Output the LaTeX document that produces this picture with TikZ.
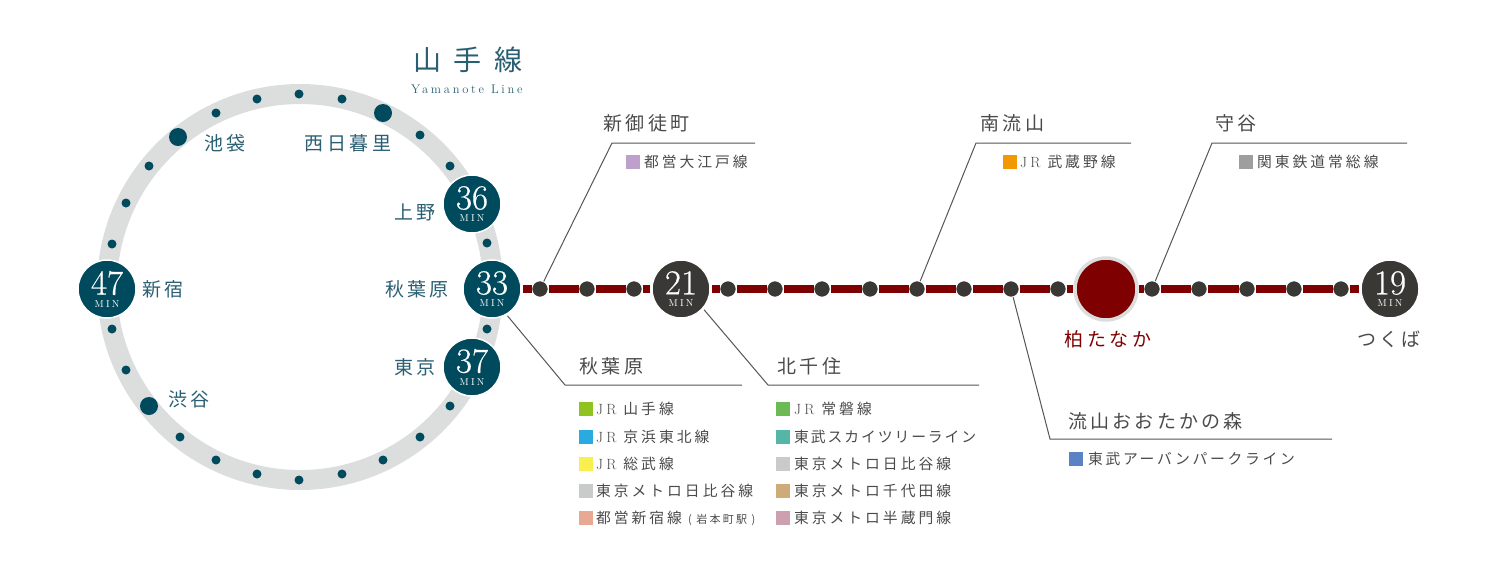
\documentclass[tikz,border=0pt]{standalone}
\usepackage{fontspec}
\usepackage{xcolor}
\newfontfamily\cjkname[LetterSpace=18]{Noto Sans CJK JP}
\newfontfamily\cjkleg[LetterSpace=20]{Noto Sans CJK JP}
\newfontfamily\cjktitle[LetterSpace=45]{Noto Sans CJK JP}
\newfontfamily\romansp[LetterSpace=22]{Latin Modern Roman}
\newfontfamily\numfont[FakeBold=0.4]{Latin Modern Roman}
\definecolor{teal}{HTML}{004A5E}
\definecolor{tealtext}{HTML}{2A5F72}
\definecolor{dark}{HTML}{3A3835}
\definecolor{wine}{HTML}{7F0000}
\definecolor{ringgray}{HTML}{DCDDDD}
\definecolor{leadgray}{HTML}{555555}
\definecolor{labgray}{HTML}{4A4A4A}
% line colours
\definecolor{oedo}{HTML}{BDA0CC}
\definecolor{musashino}{HTML}{F39800}
\definecolor{joso}{HTML}{9E9E9E}
\definecolor{urban}{HTML}{5B82C4}
\definecolor{yamanote}{HTML}{8FC31F}
\definecolor{keihin}{HTML}{29ABE2}
\definecolor{sobu}{HTML}{F9F050}
\definecolor{hibiya}{HTML}{C9CACA}
\definecolor{shinjuku}{HTML}{E8A992}
\definecolor{joban}{HTML}{6CB955}
\definecolor{skytree}{HTML}{55B5A6}
\definecolor{chiyoda}{HTML}{CDAC78}
\definecolor{hanzomon}{HTML}{CDA0B0}
\newcommand{\stn}[1]{{\numfont\fontsize{35}{32}\selectfont #1}\\[0.5pt]{\romansp\fontsize{10}{9}\selectfont MIN}}
\newcommand{\jr}{{\romansp JR}\hspace{7pt}}
\tikzset{
	bigstn/.style={circle,fill=#1,draw=white,line width=1.5pt,minimum size=58pt,inner sep=0pt,outer sep=2pt,text=white,align=center},
	ringdot/.style={circle,fill=teal,minimum size=9pt,inner sep=0pt},
	ringbig/.style={circle,fill=teal,minimum size=18pt,inner sep=0pt},
	linedot/.style={circle,fill=dark,draw=white,line width=1.5pt,minimum size=17pt,inner sep=0pt,outer sep=0pt},
	ringname/.style={text=tealtext,inner sep=0pt,font=\fontsize{19}{19}\cjkname},
	place/.style={text=labgray,inner sep=0pt,anchor=west,font=\fontsize{19}{19}\cjkname},
	legtext/.style={text=labgray,inner sep=0pt,anchor=west,font=\fontsize{14.8}{15}\cjkleg},
	legbox/.style={fill=#1,minimum size=14pt,inner sep=0pt},
	leader/.style={draw=leadgray,line width=1pt}
}
\begin{document}
\begin{tikzpicture}[x=1pt,y=-1pt]
	\useasboundingbox (0,0) rectangle (1500,574);
	% Ring
	\coordinate (centre) at (300,287);
	\draw[ringgray,line width=20pt] (centre) circle (193pt);
	\foreach \x/\y [count=\i] in {112/244,126/203,149/166,216/113,257/99,299/94,342/99,420/135,450/166,487/243,487/329,450/406,420/437,383/460,342/474,299/480,257/474,216/460,180/437,126/370,112/329}
		\node[ringdot] (r\i) at (\x,\y) {};
	\node[ringbig] (ikebukuro) at (178,137) {};
	\node[ringbig] (nippori) at (383,113) {};
	\node[ringbig] (shibuya) at (149,406) {};
	\node[bigstn=teal] (s47) at (107,289) {\stn{47}};
	\node[bigstn=teal] (s36) at (472,204) {\stn{36}};
	\node[bigstn=teal] (s33) at (492,289) {\stn{33}};
	\node[bigstn=teal] (s37) at (472,367) {\stn{37}};
	% Title
	\node[text=tealtext,inner sep=0pt,anchor=west,font=\fontsize{28}{28}\cjktitle] (title) at (413,60) {山手線};
	\node[text=tealtext,inner sep=0pt,anchor=west,font=\romansp\fontsize{12.5}{12}\selectfont] (subtitle) at (411,89) {Yamanote Line};
	% Names on the ring
	\node[ringname] (n1) at (225,143) {池袋};
	\node[ringname] (n2) at (348,143) {西日暮里};
	\node[ringname] (n3) at (415,212) {上野};
	\node[ringname] (n4) at (163,289) {新宿};
	\node[ringname] (n5) at (417,289) {秋葉原};
	\node[ringname] (n6) at (415,367) {東京};
	\node[ringname] (n7) at (189,399) {渋谷};
	% Line
	\foreach \x [count=\i] in {540,587,634,728,775,822,870,917,964,1011,1058,1152,1199,1247,1294,1341}
		\node[linedot] (d\i) at (\x,289) {};
	\node[bigstn=dark] (t21) at (681,289) {\stn{21}};
	\node[bigstn=dark] (t19) at (1390,289) {\stn{19}};
	\node[circle,fill=wine,draw=ringgray,line width=3.5pt,minimum size=62pt,inner sep=0pt] (home) at (1106,289) {};
	\draw[wine,line width=8.5pt] (s33) -- (d1) -- (d2) -- (d3) -- (t21) -- (d4) -- (d5) -- (d6) -- (d7) -- (d8) -- (d9) -- (d10) -- (d11) -- (home) -- (d12) -- (d13) -- (d14) -- (d15) -- (d16) -- (t19);
	\node[inner sep=0pt,text=wine,font=\fontsize{19}{19}\cjkname] (n8) at (1108,339) {柏たなか};
	\node[inner sep=0pt,text=labgray,font=\fontsize{19}{19}\cjkname] (n9) at (1389,339) {つくば};
	% Upper leaders
	\coordinate (b1) at (612,143);
	\coordinate (e1) at (755,143);
	\draw[leader] (d1) -- (b1) -- (e1);
	\coordinate (b2) at (976,143);
	\coordinate (e2) at (1131,143);
	\draw[leader] (d8) -- (b2) -- (e2);
	\coordinate (b3) at (1212,143);
	\coordinate (e3) at (1407,143);
	\draw[leader] (d12) -- (b3) -- (e3);
	\node[place] (p1) at (603,123) {新御徒町};
	\node[place] (p2) at (980,123) {南流山};
	\node[place] (p3) at (1215,123) {守谷};
	\node[legbox=oedo] (q1) at (633,162) {};
	\node[legtext] (l1) at (644,162) {都営大江戸線};
	\node[legbox=musashino] (q2) at (1010,162) {};
	\node[legtext] (l2) at (1020,162) {\jr 武蔵野線};
	\node[legbox=joso] (q3) at (1246,162) {};
	\node[legtext] (l3) at (1257,162) {関東鉄道常総線};
	% Lower leaders
	\coordinate (b4) at (565,385);
	\coordinate (e4) at (742,385);
	\draw[leader] (s33.300) -- (b4) -- (e4);
	\coordinate (b5) at (768,385);
	\coordinate (e5) at (979,385);
	\draw[leader] (t21.-42) -- (b5) -- (e5);
	\coordinate (b6) at (1050,439);
	\coordinate (e6) at (1332,439);
	\draw[leader] (d10) -- (b6) -- (e6);
	\node[place] (p4) at (579,366) {秋葉原};
	\node[place] (p5) at (777,366) {北千住};
	\node[place] (p6) at (1068,421) {\addfontfeature{LetterSpace=17}流山おおたかの森};
	\node[legbox=urban] (q4) at (1076,459) {};
	\node[legtext] (l4) at (1088,459) {\addfontfeature{LetterSpace=18}東武アーバンパークライン};
	% Legends
	\foreach \y/\c/\t [count=\i] in {
		409/yamanote/{\jr 山手線},
		437/keihin/{\jr 京浜東北線},
		464/sobu/{\jr 総武線},
		491/hibiya/東京メトロ日比谷線,
		518/shinjuku/{都営新宿線\hspace{6pt}{\fontsize{11}{11}\selectfont ( 岩本町駅 )}}}{
		\node[legbox=\c] (ka\i) at (586,\y) {};
		\node[legtext] (la\i) at (596,\y) {\t};
	}
	\foreach \y/\c/\t [count=\i] in {
		409/joban/{\jr 常磐線},
		437/skytree/{\addfontfeature{LetterSpace=13}東武スカイツリーライン},
		464/hibiya/東京メトロ日比谷線,
		491/chiyoda/東京メトロ千代田線,
		518/hanzomon/東京メトロ半蔵門線}{
		\node[legbox=\c] (kb\i) at (783,\y) {};
		\node[legtext] (lb\i) at (794,\y) {\t};
	}
\end{tikzpicture}
\end{document}
